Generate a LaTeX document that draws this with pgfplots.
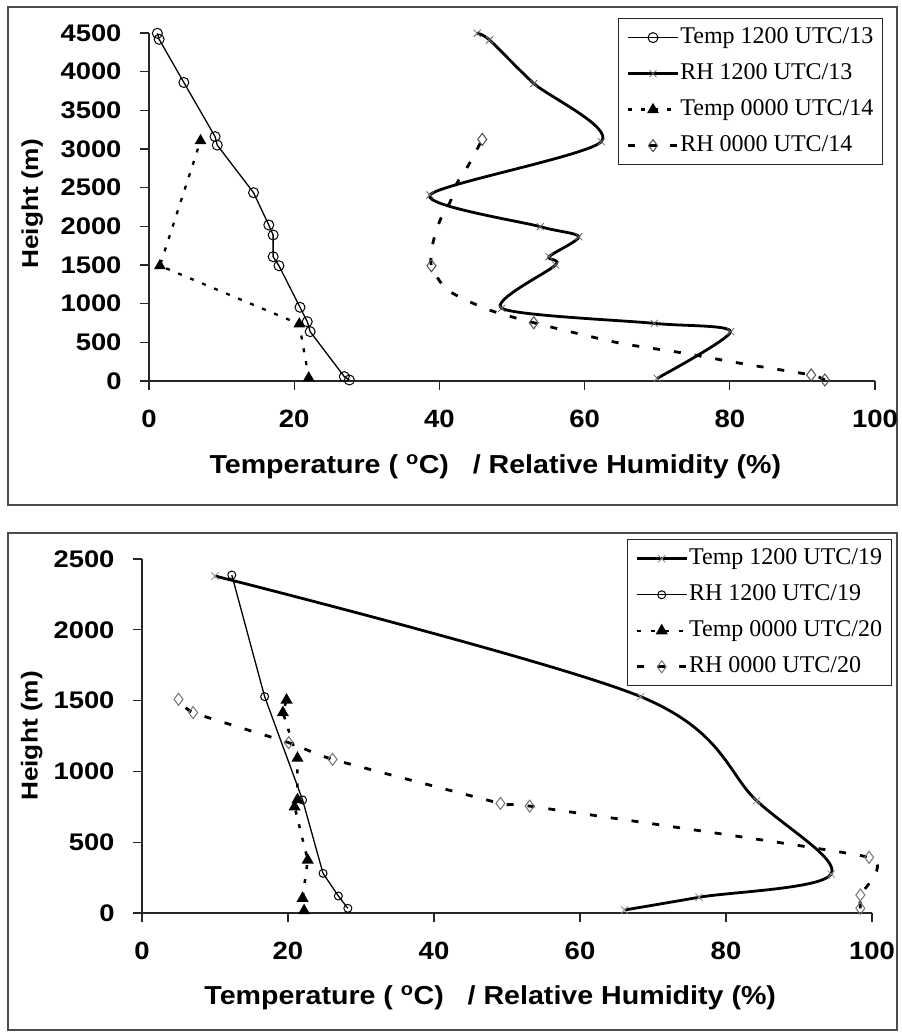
\documentclass[border=0pt]{standalone}
\usepackage{fontspec}
\setmainfont{Liberation Serif}
\newfontfamily\sansx{Liberation Sans}[FakeStretch=1.1]
\newfontfamily\sansy{Liberation Sans}[FakeStretch=1.14]
\usepackage{pgfplots}
\pgfplotsset{compat=1.18}

\pgfplotsset{
 myaxis/.style={
  scale only axis, anchor=south west,
  xmin=0, xmax=100, ymin=0,
  axis x line*=bottom, axis y line*=left,
  axis line style={line width=1.5pt, black!85},
  tick align=outside, major tick length=9pt,
  tick style={line width=1.3pt, black!85},
  xtick={0,20,...,100},
  clip=false,
  /pgf/number format/assume math mode=true,
  /pgf/number format/set thousands separator={},
  xticklabel style={font=\sansx\bfseries\fontsize{25}{25}\selectfont, yshift=-17pt},
  yticklabel style={font=\sansy\bfseries\fontsize{24}{24}\selectfont, xshift=-15pt},
  xlabel style={font=\sansx\bfseries\fontsize{26}{26}\selectfont, anchor=center},
  ylabel style={font=\sansy\bfseries\fontsize{23}{23}\selectfont, anchor=center},
  legend style={font=\fontsize{24}{24}\selectfont, draw=black!85, line width=1.2pt,
     anchor=north west, inner xsep=8pt, inner ysep=7pt, row sep=12pt,
     nodes={inner sep=1pt, text height=17pt, text depth=5pt}},
  legend cell align=left,
  legend image code/.code={
    \draw[#1, mark indices={2}] plot coordinates {(0pt,0pt) (25pt,0pt) (50pt,0pt)};
  },
 },
 thinline/.style={black, line width=1.3pt, sharp plot},
 thickline/.style={black, line width=2.8pt, smooth, tension=0.45},
 dotline/.style={black, line width=2.3pt, dash pattern=on 4pt off 9pt, sharp plot},
 dashline/.style={black, line width=2.8pt, dash pattern=on 7pt off 14pt, smooth, tension=0.4},
}

\begin{document}
\begin{tikzpicture}
\path[use as bounding box] (0pt,0pt) rectangle (901pt,1032pt);
\draw[line width=2pt, black!70] (8pt,1025pt) rectangle (897pt,527pt);
\draw[line width=2pt, black!70] (8pt,499pt) rectangle (897pt,2pt);

% ---------------- top panel ----------------
\begin{axis}[myaxis, at={(149pt,651pt)}, width=726pt, height=348pt,
  ymax=4500, ytick={0,500,...,4500},
  xlabel={Temperature ( \textsuperscript{o}C)\ \ \ / Relative Humidity (\%)},
  ylabel={Height (m)},
  xlabel style={at={(axis description cs:0.477,-0.247)}},
  ylabel style={at={(axis description cs:-0.161,0.509)}},
  legend style={at={(0.646,1.043)}},
]
\addplot[thinline, mark=o, mark size=5pt, mark options={solid, line width=1pt, fill=white}]
 coordinates {(27.6,13) (26.9,56) (22.2,638) (21.8,767) (20.8,953) (17.9,1490) (17.1,1607)
   (17.1,1888) (16.5,2017) (14.4,2435) (9.4,3050) (9.1,3160) (4.8,3860) (1.4,4418) (1.15,4496)};
\addlegendentry{Temp 1200 UTC/13}
\addplot[thickline, mark=x, mark size=5pt, mark options={solid, line width=0.8pt, black!60}]
 coordinates {(70.0,35) (80.1,638) (69.6,745) (48.6,940) (56.0,1500) (55.1,1607) (59.2,1866)
   (53.9,1995) (38.7,2405) (62.3,3095) (53.0,3847) (46.9,4410) (45.2,4496)};
\addlegendentry{RH 1200 UTC/13}
\addplot[dotline, mark=triangle*, mark size=4.5pt, mark options={solid, fill=black}]
 coordinates {(22.0,40) (20.7,737) (1.5,1490) (7.1,3107)};
\addlegendentry{Temp 0000 UTC/14}
\addplot[dashline, mark=diamond, mark size=6pt, mark options={solid, line width=1pt, black!70, fill=white},
  mark indices={1,2,6,9,15}]
 coordinates {(93.1,13) (91.2,78) (82.0,220) (73.2,367) (64.5,496) (53.0,753) (46.6,927)
   (41.1,1177) (38.9,1490) (39.1,1780) (40.1,2080) (41.5,2320) (42.4,2555) (44.0,2790) (45.9,3124)};
\addlegendentry{RH 0000 UTC/14}
\end{axis}

% ---------------- bottom panel ----------------
\begin{axis}[myaxis, at={(142pt,119pt)}, width=730pt, height=354pt,
  ymax=2500, ytick={0,500,...,2500},
  xlabel={Temperature ( \textsuperscript{o}C)\ \ \ / Relative Humidity (\%)},
  ylabel={Height (m)},
  xlabel style={at={(axis description cs:0.477,-0.240)}},
  ylabel style={at={(axis description cs:-0.151,0.5)}},
  legend style={at={(0.664,1.056)}},
]
\addplot[thickline, tension=0.55, mark=x, mark size=5pt, mark options={solid, line width=0.8pt, black!45}]
 coordinates {(66.1,21) (76.3,111) (94.4,275) (84.2,793) (68.3,1528) (10.0,2380)};
\addlegendentry{Temp 1200 UTC/19}
\addplot[thinline, mark=o, mark size=4pt, mark options={solid, line width=1pt, fill=white}]
 coordinates {(28.2,33) (26.9,120) (24.8,280) (22.0,798) (16.8,1528) (12.3,2387)};
\addlegendentry{RH 1200 UTC/19}
\addplot[dotline, line width=2.5pt, dash pattern=on 4pt off 10pt, mark=triangle*, mark size=4.5pt, mark options={solid, fill=black}]
 coordinates {(22.2,16) (22.0,104) (22.7,374) (20.9,750) (21.3,800) (21.3,1093) (19.3,1415) (19.8,1504)};
\addlegendentry{Temp 0000 UTC/20}
\addplot[dashline, tension=0.25, mark=diamond, mark size=6pt, mark options={solid, line width=1pt, black!55, fill=white}]
 coordinates {(98.4,33) (98.4,127) (99.6,393) (53.1,755) (49.1,774) (26.1,1085) (20.1,1203) (7.0,1415) (5.0,1509)};
\addlegendentry{RH 0000 UTC/20}
\end{axis}
\end{tikzpicture}
\end{document}
